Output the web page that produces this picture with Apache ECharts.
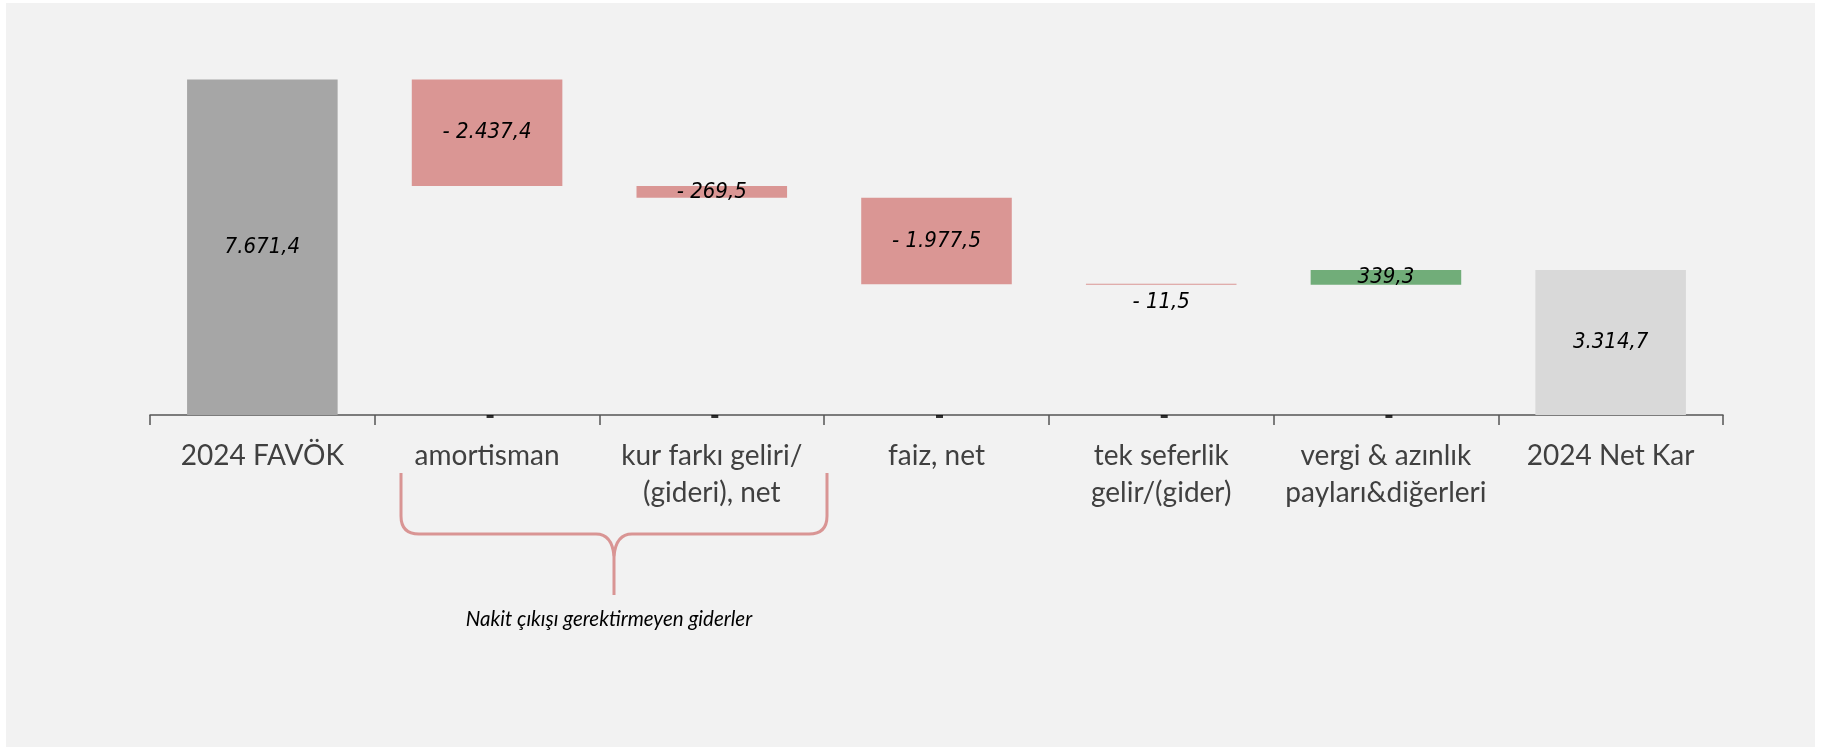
<!DOCTYPE html>
<html>
<head>
<meta charset="utf-8">
<script src="https://cdn.jsdelivr.net/npm/echarts@6/dist/echarts.min.js"></script>
<style>
html,body{margin:0;padding:0;background:#ffffff;}
#panel{position:absolute;left:6px;top:3px;width:1809px;height:744px;background:#f2f2f2;}
#chart{position:absolute;left:0;top:0;width:1824px;height:747px;}
</style>
</head>
<body>
<div id="panel"></div>
<div id="chart"></div>
<script>
// ---- data ----
const categories = ['2024 FAVÖK', 'amortisman', 'kur farkı geliri/\n(gideri), net', 'faiz, net', 'tek seferlik\ngelir/(gider)', 'vergi & azınlık\npayları&diğerleri', '2024 Net Kar'];
const deltas = [7671.4, -2437.4, -269.5, -1977.5, -11.5, 339.3, 3314.7];
const kinds = ['total', 'step', 'step', 'step', 'step', 'step', 'total'];
const zeroMarks = [null, 0, 0, 0, 0, 0, null];
const braceNote = 'Nakit çıkışı gerektirmeyen giderler';

// ---- colors ----
const C_TOTAL1 = '#a6a6a6', C_TOTAL2 = '#d9d9d9', C_DOWN = '#da9694', C_UP = '#71ad79';

// waterfall pieces from the data
const bases = [], heights = [], colors = [];
let run = 0;
deltas.forEach((v, i) => {
  if (kinds[i] === 'total') {
    bases.push(0); heights.push(Math.abs(v)); run = v;
    colors.push(i === 0 ? C_TOTAL1 : C_TOTAL2);
  } else if (v < 0) {
    bases.push(run + v); heights.push(-v); run += v; colors.push(C_DOWN);
  } else {
    bases.push(run); heights.push(v); run += v; colors.push(C_UP);
  }
});

function fmtTR(v) {
  const s = Math.abs(v).toFixed(1).split('.');
  const intPart = s[0].replace(/\B(?=(\d{3})+(?!\d))/g, '.');
  return (v < 0 ? '- ' : '') + intPart + ',' + s[1];
}

const labelFont = {fontFamily: "'DejaVu Sans Condensed', 'DejaVu Sans', sans-serif", fontStyle: 'italic', fontSize: 22, color: '#000'};

const braceStyle = {stroke: '#d99594', lineWidth: 3, fill: null};
function ln(x1, y1, x2, y2) { return {type: 'line', shape: {x1, y1, x2, y2}, style: braceStyle}; }
function qc(x1, y1, cx, cy, x2, y2) { return {type: 'bezierCurve', shape: {x1, y1, cpx1: cx, cpy1: cy, x2, y2}, style: braceStyle}; }

const chart = echarts.init(document.getElementById('chart'), null, {renderer: 'canvas'});
chart.setOption({
  backgroundColor: 'transparent',
  animation: false,
  grid: {left: 150, right: 101, top: 65, height: 350},
  xAxis: {
    type: 'category',
    data: categories,
    axisLine: {lineStyle: {color: '#555555', width: 1.5}},
    axisTick: {show: true, length: 10, lineStyle: {color: '#555555', width: 1.5}},
    axisLabel: {
      interval: 0, margin: 22,
      fontFamily: 'Lato, "Open Sans", sans-serif', fontSize: 28, color: '#404040', lineHeight: 37
    }
  },
  yAxis: {type: 'value', min: 0, max: 8000, show: false, splitLine: {show: false}},
  series: [
    {
      type: 'bar', stack: 'w', barWidth: '67%', silent: true,
      itemStyle: {color: 'transparent'},
      data: bases
    },
    {
      type: 'bar', stack: 'w', barWidth: '67%', barMinHeight: 1,
      data: heights.map((h, i) => ({
        value: h,
        itemStyle: {color: colors[i]},
        label: {
          show: true,
          position: i === 4 ? 'bottom' : 'inside',
          distance: 6,
          formatter: () => fmtTR(deltas[i]),
          ...labelFont
        }
      }))
    },
    {
      type: 'scatter', symbol: 'rect', symbolSize: [7, 3], symbolOffset: [3, 1.5],
      itemStyle: {color: '#000'}, silent: true, z: 5,
      data: zeroMarks
    }
  ],
  graphic: [
    ln(401, 473, 401, 516),
    qc(401, 516, 401, 534, 419, 534),
    ln(419, 534, 596, 534),
    qc(596, 534, 612, 534, 614, 556),
    ln(614, 556, 614, 595),
    qc(632, 534, 616, 534, 614, 556),
    ln(632, 534, 809, 534),
    qc(809, 534, 827, 534, 827, 516),
    ln(827, 516, 827, 473),
    {
      type: 'text', x: 609, y: 619,
      style: {text: braceNote, align: 'center', verticalAlign: 'middle',
        font: 'italic 20.5px Lato, "Open Sans", sans-serif', fill: '#000'}
    }
  ]
});
</script>
</body>
</html>
